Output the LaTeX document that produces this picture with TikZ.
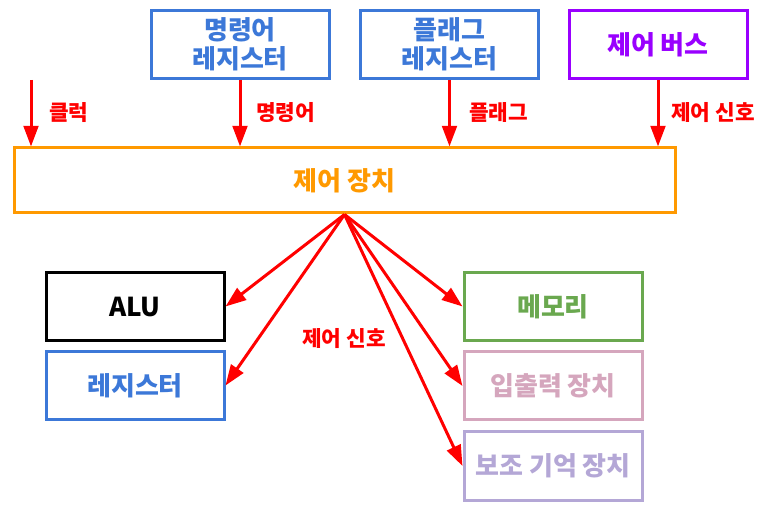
\documentclass[tikz,border=0pt]{standalone}
\usepackage{fontspec}
\setmainfont{Noto Sans CJK KR}
\usetikzlibrary{arrows.meta}
\definecolor{regblue}{HTML}{3C78D8}
\definecolor{buspurple}{HTML}{9900FF}
\definecolor{cuorange}{HTML}{FF9900}
\definecolor{memgreen}{HTML}{6AA84F}
\definecolor{iopink}{HTML}{D5A6BD}
\definecolor{auxlav}{HTML}{B4A7D6}
\begin{document}
\begin{tikzpicture}[x=0.75pt,y=-0.75pt,
    unitbox/.style={draw, line width=2.25pt, minimum width=133.5pt, minimum height=51pt,
      align=center, inner sep=1pt, font=\fontsize{19.5}{22}\selectfont\bfseries},
    sig/.style={red, line width=2.25pt, -{Triangle[length=15.5pt,width=11pt]}},
    siglabel/.style={red, anchor=west, inner sep=0pt, font=\fontsize{16}{18}\selectfont\bfseries}]
  \useasboundingbox (0,0) rectangle (764,509);
  % top row
  \node[unitbox, regblue] (ir) at (240,44.5) {명령어\\레지스터};
  \node[unitbox, regblue] (fr) at (449.5,44.5) {플래그\\레지스터};
  \node[unitbox, buspurple] (bus) at (658,44.5) {제어 버스};
  % control unit
  \node[unitbox, cuorange, minimum width=495.75pt, minimum height=48.75pt] (cu) at (344.5,180.5) {제어 장치};
  % bottom boxes
  \node[unitbox, black] (alu) at (135,306.5) {ALU};
  \node[unitbox, regblue] (reg) at (135,385.5) {레지스터};
  \node[unitbox, memgreen] (mem) at (553,306.5) {메모리};
  \node[unitbox, iopink] (io) at (553,386) {입출력 장치};
  \node[unitbox, auxlav] (aux) at (553,466) {보조 기억 장치};
  % signals into the control unit
  \coordinate (clk) at (31,80);
  \draw[sig] (clk) -- (clk |- cu.north);
  \foreach \n in {ir,fr,bus}{
    \draw[sig] (\n.south) -- (\n.south |- cu.north);
  }
  \node[siglabel] (clklbl) at (49,113) {클럭};
  \node[siglabel] (irlbl) at (256,113) {명령어};
  \node[siglabel] (frlbl) at (469,113) {플래그};
  \node[siglabel] (buslbl) at (671,113) {제어 신호};
  % control signals out
  \foreach \n in {alu,reg}{
    \draw[sig] (cu.south) -- (\n.east);
  }
  \foreach \n in {mem,io,aux}{
    \draw[sig] (cu.south) -- (\n.west);
  }
  \node[siglabel, anchor=center] (outlbl) at (344,339) {제어 신호};
\end{tikzpicture}
\end{document}
